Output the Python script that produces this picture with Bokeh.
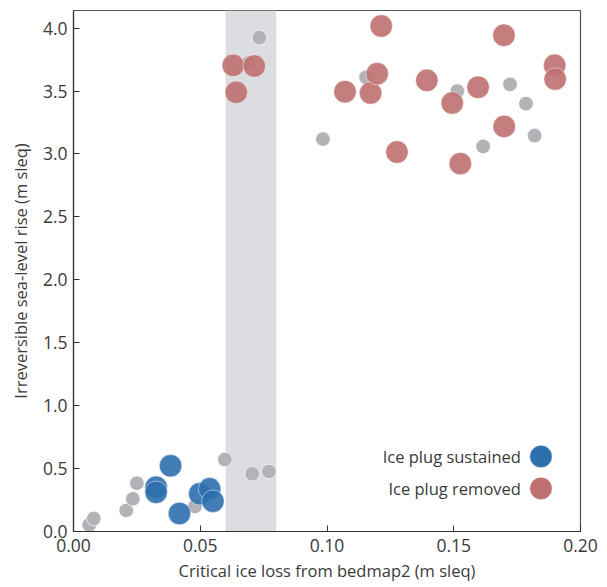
from bokeh.plotting import figure
from bokeh.models import BoxAnnotation, Range1d, FixedTicker
from bokeh.core.properties import value
from bokeh.embed import file_html
from bokeh.resources import INLINE

# ---- data ----
gray_x = [0.0062, 0.0080, 0.0208, 0.0234, 0.0250, 0.0479, 0.0597, 0.0705, 0.0771,
          0.0690, 0.0733, 0.0984, 0.1154, 0.1514, 0.1616, 0.1722, 0.1785, 0.1819]
gray_y = [0.053, 0.103, 0.167, 0.260, 0.384, 0.199, 0.572, 0.458, 0.477,
          3.723, 3.924, 3.118, 3.609, 3.500, 3.060, 3.553, 3.400, 3.146]

red_x = [0.0630, 0.0642, 0.0713, 0.1071, 0.1172, 0.1198, 0.1214, 0.1276,
         0.1394, 0.1494, 0.1526, 0.1596, 0.1698, 0.1699, 0.1898, 0.1900]
red_y = [3.704, 3.490, 3.699, 3.495, 3.484, 3.638, 4.017, 3.015,
         3.585, 3.405, 2.923, 3.530, 3.943, 3.219, 3.704, 3.595]

blue_x = [0.0326, 0.0326, 0.0383, 0.0418, 0.0498, 0.0537, 0.0550]
blue_y = [0.352, 0.312, 0.522, 0.143, 0.300, 0.339, 0.241]

shade_band = [0.06, 0.08]
x_ticks = [0.0, 0.05, 0.10, 0.15, 0.20]
y_ticks = [0.0, 0.5, 1.0, 1.5, 2.0, 2.5, 3.0, 3.5, 4.0]
legend_labels = ["Ice plug sustained", "Ice plug removed"]

# ---- styles ----
FONT = "Open Sans"
TXT = "#3a3a3a"
RED = "#bf7070"
BLUE = "#2e6fad"
GRAY = "#b2b3b7"
SHADE = "#dcdde0"

p = figure(width=600, height=585, output_backend="svg", toolbar_location=None,
           x_range=Range1d(0, 0.2), y_range=Range1d(0, 4.14),
           min_border_left=73, min_border_right=20, min_border_top=10, min_border_bottom=54)

p.xgrid.visible = False
p.ygrid.visible = False
p.outline_line_color = "#555555"
p.outline_line_width = 1.2
p.background_fill_color = "white"
p.border_fill_color = "white"

p.add_layout(BoxAnnotation(left=shade_band[0], right=shade_band[1], fill_color=SHADE,
                           fill_alpha=1.0, line_alpha=0, level="underlay"))

p.scatter(gray_x, gray_y, size=14.5, fill_color=GRAY, fill_alpha=1.0,
          line_color="white", line_width=0.6)
p.scatter(red_x, red_y, size=22.5, fill_color=RED, fill_alpha=0.9,
          line_color="white", line_width=0.6, line_alpha=0.8)
p.scatter(blue_x, blue_y, size=22.5, fill_color=BLUE, fill_alpha=0.9,
          line_color="white", line_width=0.6, line_alpha=0.8)

# legend (text to the left of marker)
leg_x_text = 0.1765
leg_x_mark = 0.1844
leg_y = [0.596, 0.342]
p.text(x=[leg_x_text, leg_x_text], y=leg_y, text=legend_labels,
       text_font=value(FONT), text_font_size="16.5px", text_color=TXT,
       text_align="right", text_baseline="middle")
p.scatter([leg_x_mark, leg_x_mark], leg_y, size=22.5, fill_color=[BLUE, RED],
          line_color="white", line_width=0.6)

for ax in (p.xaxis[0], p.yaxis[0]):
    ax.major_tick_in = 6
    ax.major_tick_out = 0
    ax.minor_tick_in = 0
    ax.minor_tick_out = 0
    ax.axis_line_color = "#333333"
    ax.axis_line_width = 1.2
    ax.major_tick_line_color = "#333333"
    ax.major_label_text_font = FONT
    ax.major_label_text_font_size = "17.5px"
    ax.major_label_text_color = TXT
    ax.axis_label_text_font = FONT
    ax.axis_label_text_font_size = "16.5px"
    ax.axis_label_text_font_style = "normal"
    ax.axis_label_text_color = TXT

p.xaxis[0].ticker = FixedTicker(ticks=x_ticks)
p.yaxis[0].ticker = FixedTicker(ticks=y_ticks)
p.xaxis[0].major_label_overrides = {t: f"{t:.2f}" for t in x_ticks}
p.yaxis[0].major_label_overrides = {t: f"{t:.1f}" for t in y_ticks}
p.xaxis[0].axis_label = "Critical ice loss from bedmap2 (m sleq)"
p.yaxis[0].axis_label = "Irreversible sea-level rise (m sleq)"
p.xaxis[0].major_label_standoff = 7
p.yaxis[0].major_label_standoff = 6
p.xaxis[0].axis_label_standoff = 4
p.yaxis[0].axis_label_standoff = 8

open("out.html", "w").write(file_html(p, INLINE))
